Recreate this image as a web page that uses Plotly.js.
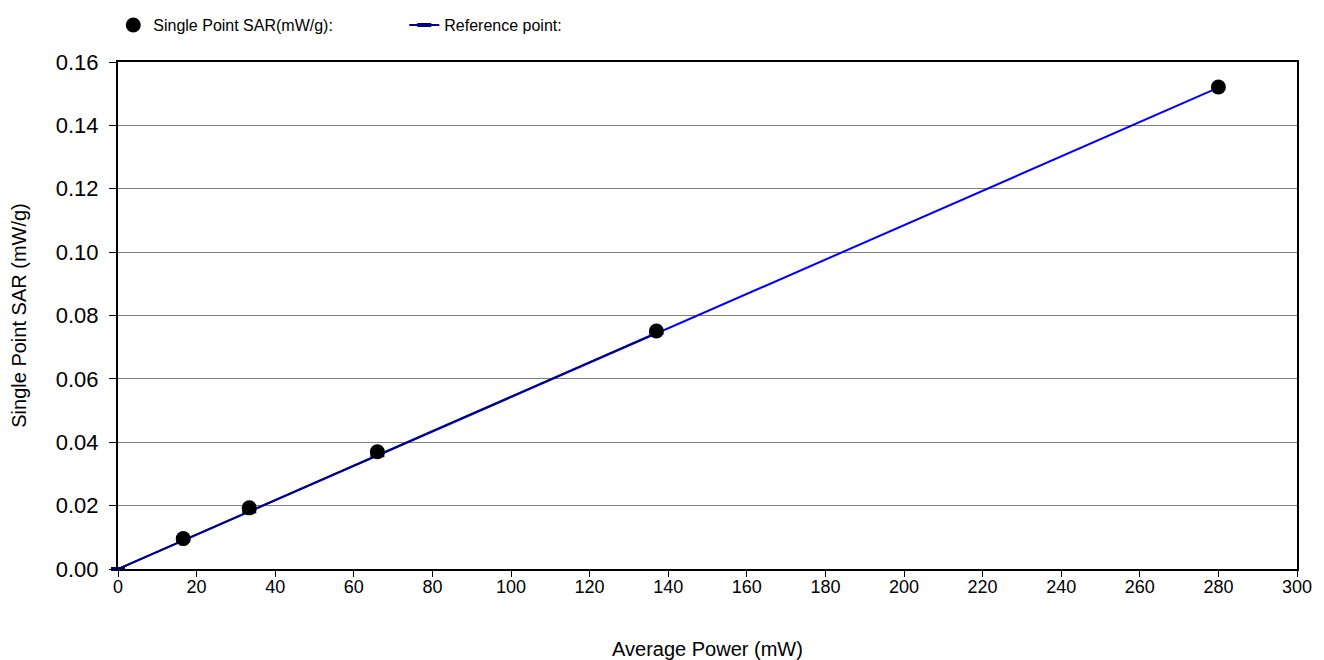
<!DOCTYPE html>
<html>
<head>
<meta charset="utf-8">
<script src="https://cdn.plot.ly/plotly-3.0.1.min.js"></script>
<style>html,body{margin:0;padding:0;background:#fff;}#chart{width:1324px;height:660px;}</style>
</head>
<body>
<div id="chart"></div>
<script>
// Data
const sarPower = [16.6, 33.4, 66, 137, 280];
const sarValues = [0.0096, 0.0193, 0.0370, 0.0751, 0.1521];

const refPower = [0, 16.6, 33.4, 66, 137];
const refValues = [0, 0.0090, 0.0182, 0.0359, 0.0745];

const trendPower = [0, 280];
const trendValues = [0, 0.1519];

const xTicks = [0, 20, 40, 60, 80, 100, 120, 140, 160, 180, 200, 220, 240, 260, 280, 300];
const yTicks = [0, 0.02, 0.04, 0.06, 0.08, 0.10, 0.12, 0.14, 0.16];

const seriesNames = ['Single Point SAR(mW/g):', 'Reference point:'];
const xTitle = 'Average Power (mW)';
const yTitle = 'Single Point SAR (mW/g)';

const font = 'Liberation Sans, Arial, sans-serif';

const traces = [
  {
    x: trendPower, y: trendValues, type: 'scatter', mode: 'lines',
    line: {color: '#0000FF', width: 2}, showlegend: false, hoverinfo: 'skip'
  },
  {
    x: refPower, y: refValues, type: 'scatter', mode: 'lines+markers',
    name: seriesNames[1],
    line: {color: '#000080', width: 2},
    marker: {symbol: 'line-ew-open', size: 10, color: '#000080', line: {color: '#000080', width: 4}},
    cliponaxis: false
  },
  {
    x: sarPower, y: sarValues, type: 'scatter', mode: 'markers',
    name: seriesNames[0],
    marker: {symbol: 'circle', size: 15, color: '#000000'},
    cliponaxis: false
  }
];

const layout = {
  width: 1324, height: 660,
  margin: {l: 118, r: 27, t: 62, b: 91, autoexpand: false},
  paper_bgcolor: '#ffffff', plot_bgcolor: '#ffffff',
  font: {family: font, color: '#000000'},
  showlegend: true,
  legend: {
    orientation: 'h', x: -0.004, xanchor: 'left',
    yref: 'container', y: 0.962, yanchor: 'middle',
    font: {family: font, size: 16, color: '#000'},
    traceorder: 'reversed',
    entrywidth: 246, entrywidthmode: 'pixels',
    bgcolor: 'rgba(0,0,0,0)'
  },
  xaxis: {
    range: [0, 300], tickvals: xTicks, ticktext: xTicks.map(String),
    showgrid: false, zeroline: false,
    showline: true, linecolor: '#000', linewidth: 2, mirror: true,
    ticks: 'outside', ticklen: 6, tickcolor: '#000', tickwidth: 1,
    ticklabelstandoff: -6,
    tickfont: {family: font, size: 18, color: '#000'},
    title: {text: xTitle, font: {family: font, size: 20, color: '#000'}, standoff: 46}
  },
  yaxis: {
    range: [0, 0.16], tickvals: yTicks, ticktext: yTicks.map(v => v.toFixed(2)),
    showgrid: true, gridcolor: '#808080', gridwidth: 1, zeroline: false,
    showline: true, linecolor: '#000', linewidth: 2, mirror: true,
    ticks: 'outside', ticklen: 7, tickcolor: '#000', tickwidth: 1,
    ticklabelstandoff: 6,
    tickfont: {family: font, size: 22, color: '#000'},
    title: {text: yTitle, font: {family: font, size: 20, color: '#000'}, standoff: 24}
  }
};

Plotly.newPlot('chart', traces, layout, {displayModeBar: false, staticPlot: true});
</script>
</body>
</html>
